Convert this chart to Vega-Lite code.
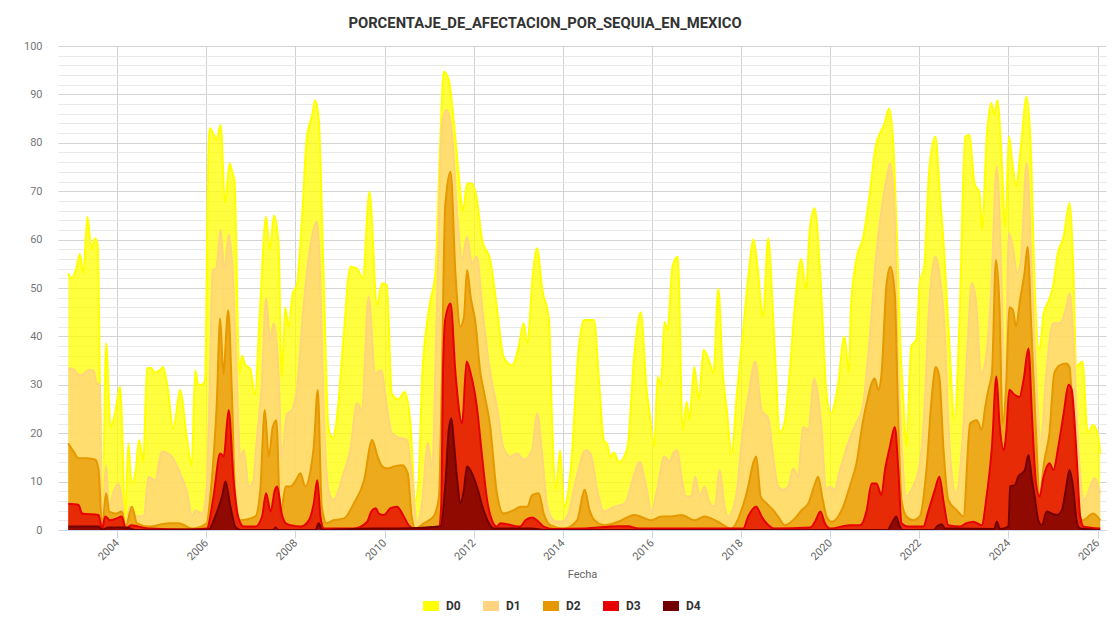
{
  "$schema": "https://vega.github.io/schema/vega-lite/v6.json",
  "width": 1048,
  "height": 484,
  "autosize": {"type": "none"},
  "padding": {"left": 58, "top": 46, "right": 6, "bottom": 89},
  "background": "white",
  "title": {"text": "PORCENTAJE_DE_AFECTACION_POR_SEQUIA_EN_MEXICO", "font": "Roboto", "fontSize": 14.8, "fontWeight": "bold", "color": "#333333", "anchor": "middle", "frame": "group", "dx": -37, "dy": 23, "offset": 17, "baseline": "bottom"},
  "datasets": {
    "D0": [
      {"Fecha":2002.90,"Porcentaje":53},{"Fecha":2002.97,"Porcentaje":52},{"Fecha":2003.08,"Porcentaje":54},{"Fecha":2003.16,"Porcentaje":57},{"Fecha":2003.24,"Porcentaje":53},{"Fecha":2003.33,"Porcentaje":64.7},{"Fecha":2003.42,"Porcentaje":58},{"Fecha":2003.50,"Porcentaje":60.3},{"Fecha":2003.56,"Porcentaje":59},{"Fecha":2003.61,"Porcentaje":31},{"Fecha":2003.66,"Porcentaje":1},{"Fecha":2003.75,"Porcentaje":38.6},{"Fecha":2003.85,"Porcentaje":21.3},{"Fecha":2003.95,"Porcentaje":24},{"Fecha":2004.06,"Porcentaje":29.6},{"Fecha":2004.13,"Porcentaje":15},{"Fecha":2004.17,"Porcentaje":1},{"Fecha":2004.25,"Porcentaje":17.9},{"Fecha":2004.32,"Porcentaje":9.6},{"Fecha":2004.41,"Porcentaje":12},{"Fecha":2004.49,"Porcentaje":18.6},{"Fecha":2004.58,"Porcentaje":14},{"Fecha":2004.67,"Porcentaje":33.4},{"Fecha":2004.75,"Porcentaje":33.5},{"Fecha":2004.85,"Porcentaje":32.5},{"Fecha":2004.95,"Porcentaje":33},{"Fecha":2005.03,"Porcentaje":33.7},{"Fecha":2005.12,"Porcentaje":30},{"Fecha":2005.26,"Porcentaje":21},{"Fecha":2005.41,"Porcentaje":28.9},{"Fecha":2005.55,"Porcentaje":20},{"Fecha":2005.67,"Porcentaje":13.4},{"Fecha":2005.75,"Porcentaje":33},{"Fecha":2005.82,"Porcentaje":30},{"Fecha":2005.90,"Porcentaje":30},{"Fecha":2005.97,"Porcentaje":31},{"Fecha":2006.05,"Porcentaje":80},{"Fecha":2006.08,"Porcentaje":83},{"Fecha":2006.15,"Porcentaje":82},{"Fecha":2006.23,"Porcentaje":80.6},{"Fecha":2006.32,"Porcentaje":83.7},{"Fecha":2006.42,"Porcentaje":67.5},{"Fecha":2006.52,"Porcentaje":75.8},{"Fecha":2006.58,"Porcentaje":74},{"Fecha":2006.63,"Porcentaje":72.3},{"Fecha":2006.74,"Porcentaje":32.4},{"Fecha":2006.80,"Porcentaje":36},{"Fecha":2006.88,"Porcentaje":34},{"Fecha":2006.98,"Porcentaje":33.4},{"Fecha":2007.09,"Porcentaje":27.9},{"Fecha":2007.20,"Porcentaje":45},{"Fecha":2007.34,"Porcentaje":64.7},{"Fecha":2007.42,"Porcentaje":57.9},{"Fecha":2007.52,"Porcentaje":65},{"Fecha":2007.62,"Porcentaje":59},{"Fecha":2007.69,"Porcentaje":31.7},{"Fecha":2007.77,"Porcentaje":46},{"Fecha":2007.84,"Porcentaje":42},{"Fecha":2007.94,"Porcentaje":48.9},{"Fecha":2008.03,"Porcentaje":50.6},{"Fecha":2008.15,"Porcentaje":65},{"Fecha":2008.25,"Porcentaje":80.6},{"Fecha":2008.38,"Porcentaje":86},{"Fecha":2008.44,"Porcentaje":88.8},{"Fecha":2008.52,"Porcentaje":85},{"Fecha":2008.63,"Porcentaje":53},{"Fecha":2008.74,"Porcentaje":21.3},{"Fecha":2008.84,"Porcentaje":19},{"Fecha":2008.95,"Porcentaje":25},{"Fecha":2009.08,"Porcentaje":40},{"Fecha":2009.23,"Porcentaje":54.4},{"Fecha":2009.38,"Porcentaje":54},{"Fecha":2009.51,"Porcentaje":52},{"Fecha":2009.66,"Porcentaje":69.9},{"Fecha":2009.83,"Porcentaje":46.5},{"Fecha":2009.94,"Porcentaje":51},{"Fecha":2010.05,"Porcentaje":50.6},{"Fecha":2010.16,"Porcentaje":28.2},{"Fecha":2010.31,"Porcentaje":27},{"Fecha":2010.45,"Porcentaje":28.5},{"Fecha":2010.58,"Porcentaje":22},{"Fecha":2010.69,"Porcentaje":6.2},{"Fecha":2010.76,"Porcentaje":10},{"Fecha":2010.84,"Porcentaje":31},{"Fecha":2010.95,"Porcentaje":42.7},{"Fecha":2011.03,"Porcentaje":47.5},{"Fecha":2011.14,"Porcentaje":53},{"Fecha":2011.25,"Porcentaje":80.6},{"Fecha":2011.33,"Porcentaje":94.7},{"Fecha":2011.44,"Porcentaje":93},{"Fecha":2011.55,"Porcentaje":84.7},{"Fecha":2011.66,"Porcentaje":73.7},{"Fecha":2011.76,"Porcentaje":66},{"Fecha":2011.85,"Porcentaje":71.6},{"Fecha":2011.96,"Porcentaje":71.6},{"Fecha":2012.06,"Porcentaje":68.9},{"Fecha":2012.19,"Porcentaje":59.9},{"Fecha":2012.37,"Porcentaje":55.8},{"Fecha":2012.52,"Porcentaje":46},{"Fecha":2012.67,"Porcentaje":35.8},{"Fecha":2012.86,"Porcentaje":34},{"Fecha":2013.01,"Porcentaje":37.9},{"Fecha":2013.12,"Porcentaje":42.7},{"Fecha":2013.20,"Porcentaje":38.6},{"Fecha":2013.33,"Porcentaje":53},{"Fecha":2013.42,"Porcentaje":58.2},{"Fecha":2013.54,"Porcentaje":49.6},{"Fecha":2013.69,"Porcentaje":43.4},{"Fecha":2013.76,"Porcentaje":22},{"Fecha":2013.84,"Porcentaje":8.3},{"Fecha":2013.94,"Porcentaje":16.5},{"Fecha":2014.03,"Porcentaje":4.8},{"Fecha":2014.18,"Porcentaje":13},{"Fecha":2014.36,"Porcentaje":37.9},{"Fecha":2014.47,"Porcentaje":43.4},{"Fecha":2014.70,"Porcentaje":43.4},{"Fecha":2014.81,"Porcentaje":31},{"Fecha":2014.92,"Porcentaje":18.6},{"Fecha":2015.00,"Porcentaje":17.6},{"Fecha":2015.07,"Porcentaje":15},{"Fecha":2015.15,"Porcentaje":16},{"Fecha":2015.26,"Porcentaje":14},{"Fecha":2015.45,"Porcentaje":17},{"Fecha":2015.60,"Porcentaje":35.8},{"Fecha":2015.75,"Porcentaje":45},{"Fecha":2015.88,"Porcentaje":29},{"Fecha":2015.95,"Porcentaje":24},{"Fecha":2016.05,"Porcentaje":17.2},{"Fecha":2016.13,"Porcentaje":31.7},{"Fecha":2016.20,"Porcentaje":29.6},{"Fecha":2016.28,"Porcentaje":43},{"Fecha":2016.35,"Porcentaje":41.3},{"Fecha":2016.46,"Porcentaje":54.4},{"Fecha":2016.58,"Porcentaje":56.5},{"Fecha":2016.69,"Porcentaje":20.7},{"Fecha":2016.78,"Porcentaje":26.5},{"Fecha":2016.84,"Porcentaje":22.7},{"Fecha":2016.95,"Porcentaje":33.7},{"Fecha":2017.05,"Porcentaje":26.9},{"Fecha":2017.16,"Porcentaje":37.2},{"Fecha":2017.29,"Porcentaje":34.8},{"Fecha":2017.38,"Porcentaje":32.4},{"Fecha":2017.49,"Porcentaje":49.9},{"Fecha":2017.59,"Porcentaje":32.4},{"Fecha":2017.68,"Porcentaje":24.8},{"Fecha":2017.79,"Porcentaje":15.8},{"Fecha":2017.90,"Porcentaje":27.5},{"Fecha":2018.04,"Porcentaje":40.6},{"Fecha":2018.17,"Porcentaje":53},{"Fecha":2018.28,"Porcentaje":60},{"Fecha":2018.37,"Porcentaje":54.4},{"Fecha":2018.49,"Porcentaje":44},{"Fecha":2018.61,"Porcentaje":60.3},{"Fecha":2018.71,"Porcentaje":46},{"Fecha":2018.79,"Porcentaje":31},{"Fecha":2018.86,"Porcentaje":20},{"Fecha":2018.97,"Porcentaje":22},{"Fecha":2019.09,"Porcentaje":32.4},{"Fecha":2019.20,"Porcentaje":45.5},{"Fecha":2019.35,"Porcentaje":56},{"Fecha":2019.46,"Porcentaje":49.6},{"Fecha":2019.54,"Porcentaje":62},{"Fecha":2019.65,"Porcentaje":66.5},{"Fecha":2019.80,"Porcentaje":48.9},{"Fecha":2019.91,"Porcentaje":29},{"Fecha":2020.02,"Porcentaje":24.1},{"Fecha":2020.17,"Porcentaje":29.6},{"Fecha":2020.32,"Porcentaje":40},{"Fecha":2020.42,"Porcentaje":32.4},{"Fecha":2020.47,"Porcentaje":46.8},{"Fecha":2020.62,"Porcentaje":57.2},{"Fecha":2020.73,"Porcentaje":60},{"Fecha":2020.88,"Porcentaje":68.9},{"Fecha":2021.02,"Porcentaje":79.2},{"Fecha":2021.12,"Porcentaje":82},{"Fecha":2021.22,"Porcentaje":84},{"Fecha":2021.32,"Porcentaje":87.1},{"Fecha":2021.41,"Porcentaje":80.6},{"Fecha":2021.50,"Porcentaje":60},{"Fecha":2021.57,"Porcentaje":39.3},{"Fecha":2021.65,"Porcentaje":25.5},{"Fecha":2021.71,"Porcentaje":17.2},{"Fecha":2021.82,"Porcentaje":37.9},{"Fecha":2021.93,"Porcentaje":39.3},{"Fecha":2022.01,"Porcentaje":51},{"Fecha":2022.11,"Porcentaje":54.4},{"Fecha":2022.22,"Porcentaje":74},{"Fecha":2022.36,"Porcentaje":81.3},{"Fecha":2022.46,"Porcentaje":69.6},{"Fecha":2022.56,"Porcentaje":57.2},{"Fecha":2022.67,"Porcentaje":39.3},{"Fecha":2022.79,"Porcentaje":22.7},{"Fecha":2022.90,"Porcentaje":42.7},{"Fecha":2023.03,"Porcentaje":81.3},{"Fecha":2023.12,"Porcentaje":81.6},{"Fecha":2023.24,"Porcentaje":71.6},{"Fecha":2023.35,"Porcentaje":69.6},{"Fecha":2023.41,"Porcentaje":62},{"Fecha":2023.51,"Porcentaje":80.6},{"Fecha":2023.61,"Porcentaje":88.2},{"Fecha":2023.69,"Porcentaje":85.7},{"Fecha":2023.75,"Porcentaje":88.8},{"Fecha":2023.84,"Porcentaje":78.5},{"Fecha":2023.93,"Porcentaje":62.7},{"Fecha":2024.01,"Porcentaje":81.3},{"Fecha":2024.10,"Porcentaje":75},{"Fecha":2024.17,"Porcentaje":71},{"Fecha":2024.28,"Porcentaje":79.2},{"Fecha":2024.41,"Porcentaje":89.5},{"Fecha":2024.51,"Porcentaje":77.1},{"Fecha":2024.58,"Porcentaje":53},{"Fecha":2024.70,"Porcentaje":37.2},{"Fecha":2024.79,"Porcentaje":44.8},{"Fecha":2024.91,"Porcentaje":47.5},{"Fecha":2025.00,"Porcentaje":50.3},{"Fecha":2025.11,"Porcentaje":57.2},{"Fecha":2025.24,"Porcentaje":60.6},{"Fecha":2025.37,"Porcentaje":67.5},{"Fecha":2025.46,"Porcentaje":53},{"Fecha":2025.52,"Porcentaje":33.7},{"Fecha":2025.66,"Porcentaje":34.8},{"Fecha":2025.78,"Porcentaje":20},{"Fecha":2025.90,"Porcentaje":21.7},{"Fecha":2026.01,"Porcentaje":19.6},{"Fecha":2026.06,"Porcentaje":15.8}
    ],
    "D1": [
      {"Fecha":2002.90,"Porcentaje":33.4},{"Fecha":2003.05,"Porcentaje":33},{"Fecha":2003.13,"Porcentaje":32},{"Fecha":2003.20,"Porcentaje":32},{"Fecha":2003.35,"Porcentaje":33},{"Fecha":2003.46,"Porcentaje":33},{"Fecha":2003.54,"Porcentaje":30.3},{"Fecha":2003.61,"Porcentaje":30},{"Fecha":2003.66,"Porcentaje":0.7},{"Fecha":2003.75,"Porcentaje":13.4},{"Fecha":2003.82,"Porcentaje":4.8},{"Fecha":2003.92,"Porcentaje":8},{"Fecha":2004.03,"Porcentaje":9.5},{"Fecha":2004.12,"Porcentaje":5},{"Fecha":2004.18,"Porcentaje":0.7},{"Fecha":2004.29,"Porcentaje":4.8},{"Fecha":2004.44,"Porcentaje":2.8},{"Fecha":2004.60,"Porcentaje":3},{"Fecha":2004.70,"Porcentaje":11},{"Fecha":2004.85,"Porcentaje":10.3},{"Fecha":2005.00,"Porcentaje":16.2},{"Fecha":2005.19,"Porcentaje":15.5},{"Fecha":2005.38,"Porcentaje":12.4},{"Fecha":2005.57,"Porcentaje":7.6},{"Fecha":2005.68,"Porcentaje":2.8},{"Fecha":2005.75,"Porcentaje":4.1},{"Fecha":2005.90,"Porcentaje":3.4},{"Fecha":2006.01,"Porcentaje":9},{"Fecha":2006.08,"Porcentaje":32},{"Fecha":2006.14,"Porcentaje":53.7},{"Fecha":2006.22,"Porcentaje":54},{"Fecha":2006.32,"Porcentaje":62},{"Fecha":2006.40,"Porcentaje":53.7},{"Fecha":2006.51,"Porcentaje":61},{"Fecha":2006.59,"Porcentaje":53},{"Fecha":2006.68,"Porcentaje":32.4},{"Fecha":2006.76,"Porcentaje":14.8},{"Fecha":2006.84,"Porcentaje":16.5},{"Fecha":2006.95,"Porcentaje":9},{"Fecha":2007.05,"Porcentaje":10},{"Fecha":2007.13,"Porcentaje":18.6},{"Fecha":2007.24,"Porcentaje":29.6},{"Fecha":2007.34,"Porcentaje":47.9},{"Fecha":2007.43,"Porcentaje":39.3},{"Fecha":2007.51,"Porcentaje":42.7},{"Fecha":2007.62,"Porcentaje":32.4},{"Fecha":2007.69,"Porcentaje":15},{"Fecha":2007.81,"Porcentaje":24},{"Fecha":2007.92,"Porcentaje":24.8},{"Fecha":2008.03,"Porcentaje":29},{"Fecha":2008.18,"Porcentaje":46},{"Fecha":2008.33,"Porcentaje":58.5},{"Fecha":2008.48,"Porcentaje":63.7},{"Fecha":2008.55,"Porcentaje":53},{"Fecha":2008.63,"Porcentaje":25.5},{"Fecha":2008.74,"Porcentaje":8.3},{"Fecha":2008.85,"Porcentaje":6.2},{"Fecha":2009.08,"Porcentaje":11.7},{"Fecha":2009.23,"Porcentaje":16.5},{"Fecha":2009.38,"Porcentaje":26.2},{"Fecha":2009.49,"Porcentaje":24.8},{"Fecha":2009.64,"Porcentaje":48.2},{"Fecha":2009.79,"Porcentaje":32.4},{"Fecha":2009.92,"Porcentaje":33},{"Fecha":2010.05,"Porcentaje":25.5},{"Fecha":2010.16,"Porcentaje":20},{"Fecha":2010.35,"Porcentaje":19},{"Fecha":2010.50,"Porcentaje":18.6},{"Fecha":2010.61,"Porcentaje":11.7},{"Fecha":2010.73,"Porcentaje":1.4},{"Fecha":2010.84,"Porcentaje":5.5},{"Fecha":2010.97,"Porcentaje":17.9},{"Fecha":2011.06,"Porcentaje":13},{"Fecha":2011.18,"Porcentaje":47.5},{"Fecha":2011.29,"Porcentaje":84},{"Fecha":2011.39,"Porcentaje":86.8},{"Fecha":2011.51,"Porcentaje":82},{"Fecha":2011.63,"Porcentaje":65.4},{"Fecha":2011.74,"Porcentaje":55.8},{"Fecha":2011.85,"Porcentaje":60.6},{"Fecha":2011.96,"Porcentaje":55},{"Fecha":2012.07,"Porcentaje":56.5},{"Fecha":2012.19,"Porcentaje":46},{"Fecha":2012.37,"Porcentaje":32.4},{"Fecha":2012.52,"Porcentaje":25.5},{"Fecha":2012.67,"Porcentaje":16.9},{"Fecha":2012.82,"Porcentaje":15.2},{"Fecha":2012.97,"Porcentaje":15.8},{"Fecha":2013.12,"Porcentaje":14.5},{"Fecha":2013.31,"Porcentaje":16.5},{"Fecha":2013.42,"Porcentaje":24.1},{"Fecha":2013.54,"Porcentaje":15.2},{"Fecha":2013.65,"Porcentaje":4.8},{"Fecha":2013.80,"Porcentaje":2},{"Fecha":2013.95,"Porcentaje":1.7},{"Fecha":2014.10,"Porcentaje":2.8},{"Fecha":2014.33,"Porcentaje":11.7},{"Fecha":2014.51,"Porcentaje":16.5},{"Fecha":2014.62,"Porcentaje":15.8},{"Fecha":2014.77,"Porcentaje":8.3},{"Fecha":2014.92,"Porcentaje":3.8},{"Fecha":2015.16,"Porcentaje":4.8},{"Fecha":2015.39,"Porcentaje":5.5},{"Fecha":2015.61,"Porcentaje":11.7},{"Fecha":2015.72,"Porcentaje":14.1},{"Fecha":2015.87,"Porcentaje":9},{"Fecha":2015.99,"Porcentaje":3.8},{"Fecha":2016.10,"Porcentaje":7.6},{"Fecha":2016.28,"Porcentaje":15.2},{"Fecha":2016.40,"Porcentaje":14},{"Fecha":2016.47,"Porcentaje":15.8},{"Fecha":2016.57,"Porcentaje":16.5},{"Fecha":2016.66,"Porcentaje":11},{"Fecha":2016.77,"Porcentaje":6.9},{"Fecha":2016.88,"Porcentaje":6.9},{"Fecha":2016.97,"Porcentaje":11},{"Fecha":2017.07,"Porcentaje":6.9},{"Fecha":2017.18,"Porcentaje":9},{"Fecha":2017.30,"Porcentaje":5.5},{"Fecha":2017.41,"Porcentaje":4.8},{"Fecha":2017.52,"Porcentaje":12.4},{"Fecha":2017.62,"Porcentaje":5.5},{"Fecha":2017.71,"Porcentaje":2.8},{"Fecha":2017.90,"Porcentaje":7.6},{"Fecha":2018.01,"Porcentaje":17.9},{"Fecha":2018.16,"Porcentaje":27.5},{"Fecha":2018.32,"Porcentaje":34.8},{"Fecha":2018.46,"Porcentaje":24.8},{"Fecha":2018.61,"Porcentaje":23},{"Fecha":2018.72,"Porcentaje":15.2},{"Fecha":2018.83,"Porcentaje":9},{"Fecha":2018.94,"Porcentaje":8.3},{"Fecha":2019.06,"Porcentaje":9},{"Fecha":2019.17,"Porcentaje":12.7},{"Fecha":2019.28,"Porcentaje":11},{"Fecha":2019.39,"Porcentaje":21.3},{"Fecha":2019.51,"Porcentaje":20.7},{"Fecha":2019.64,"Porcentaje":31.3},{"Fecha":2019.73,"Porcentaje":27.5},{"Fecha":2019.82,"Porcentaje":19.3},{"Fecha":2019.90,"Porcentaje":8.3},{"Fecha":2019.99,"Porcentaje":9},{"Fecha":2020.10,"Porcentaje":8.3},{"Fecha":2020.22,"Porcentaje":12.4},{"Fecha":2020.29,"Porcentaje":14.5},{"Fecha":2020.40,"Porcentaje":17.9},{"Fecha":2020.58,"Porcentaje":22},{"Fecha":2020.73,"Porcentaje":25.5},{"Fecha":2020.88,"Porcentaje":39},{"Fecha":2021.03,"Porcentaje":56.5},{"Fecha":2021.18,"Porcentaje":68},{"Fecha":2021.29,"Porcentaje":73.7},{"Fecha":2021.34,"Porcentaje":75.8},{"Fecha":2021.44,"Porcentaje":66.8},{"Fecha":2021.51,"Porcentaje":39.3},{"Fecha":2021.62,"Porcentaje":15},{"Fecha":2021.71,"Porcentaje":6.9},{"Fecha":2021.86,"Porcentaje":9},{"Fecha":2022.00,"Porcentaje":13},{"Fecha":2022.11,"Porcentaje":24},{"Fecha":2022.22,"Porcentaje":46},{"Fecha":2022.36,"Porcentaje":56.5},{"Fecha":2022.45,"Porcentaje":53},{"Fecha":2022.56,"Porcentaje":42.7},{"Fecha":2022.67,"Porcentaje":18.6},{"Fecha":2022.82,"Porcentaje":7.6},{"Fecha":2022.97,"Porcentaje":18.6},{"Fecha":2023.09,"Porcentaje":39.3},{"Fecha":2023.18,"Porcentaje":51},{"Fecha":2023.27,"Porcentaje":47.5},{"Fecha":2023.39,"Porcentaje":32.4},{"Fecha":2023.50,"Porcentaje":35.8},{"Fecha":2023.61,"Porcentaje":48.9},{"Fecha":2023.74,"Porcentaje":75},{"Fecha":2023.84,"Porcentaje":53},{"Fecha":2023.93,"Porcentaje":29},{"Fecha":2024.01,"Porcentaje":61.3},{"Fecha":2024.11,"Porcentaje":57.9},{"Fecha":2024.19,"Porcentaje":53},{"Fecha":2024.28,"Porcentaje":55.8},{"Fecha":2024.41,"Porcentaje":75.8},{"Fecha":2024.53,"Porcentaje":51.7},{"Fecha":2024.62,"Porcentaje":32.4},{"Fecha":2024.73,"Porcentaje":18.6},{"Fecha":2024.85,"Porcentaje":32.4},{"Fecha":2025.00,"Porcentaje":42.7},{"Fecha":2025.15,"Porcentaje":42.7},{"Fecha":2025.30,"Porcentaje":46},{"Fecha":2025.37,"Porcentaje":48.9},{"Fecha":2025.46,"Porcentaje":39.3},{"Fecha":2025.56,"Porcentaje":18.6},{"Fecha":2025.71,"Porcentaje":6.2},{"Fecha":2025.86,"Porcentaje":9.6},{"Fecha":2025.93,"Porcentaje":10.7},{"Fecha":2026.06,"Porcentaje":7.6}
    ],
    "D2": [
      {"Fecha":2002.90,"Porcentaje":17.9},{"Fecha":2003.02,"Porcentaje":16.2},{"Fecha":2003.13,"Porcentaje":14.8},{"Fecha":2003.32,"Porcentaje":14.8},{"Fecha":2003.51,"Porcentaje":14.5},{"Fecha":2003.58,"Porcentaje":12.4},{"Fecha":2003.66,"Porcentaje":0.7},{"Fecha":2003.75,"Porcentaje":7.6},{"Fecha":2003.82,"Porcentaje":3.8},{"Fecha":2003.96,"Porcentaje":3.4},{"Fecha":2004.10,"Porcentaje":3.8},{"Fecha":2004.19,"Porcentaje":0.7},{"Fecha":2004.33,"Porcentaje":4.8},{"Fecha":2004.44,"Porcentaje":1.4},{"Fecha":2004.70,"Porcentaje":0.7},{"Fecha":2005.15,"Porcentaje":1.4},{"Fecha":2005.38,"Porcentaje":1.4},{"Fecha":2005.68,"Porcentaje":0.3},{"Fecha":2006.01,"Porcentaje":1.4},{"Fecha":2006.08,"Porcentaje":6.2},{"Fecha":2006.16,"Porcentaje":15},{"Fecha":2006.23,"Porcentaje":25.5},{"Fecha":2006.31,"Porcentaje":43.7},{"Fecha":2006.38,"Porcentaje":32.4},{"Fecha":2006.49,"Porcentaje":45.4},{"Fecha":2006.57,"Porcentaje":29},{"Fecha":2006.64,"Porcentaje":8.3},{"Fecha":2006.76,"Porcentaje":2},{"Fecha":2007.10,"Porcentaje":2.8},{"Fecha":2007.21,"Porcentaje":8.3},{"Fecha":2007.31,"Porcentaje":24.8},{"Fecha":2007.40,"Porcentaje":15.2},{"Fecha":2007.49,"Porcentaje":21.3},{"Fecha":2007.57,"Porcentaje":22.7},{"Fecha":2007.66,"Porcentaje":2.8},{"Fecha":2007.78,"Porcentaje":9},{"Fecha":2007.89,"Porcentaje":9},{"Fecha":2008.01,"Porcentaje":10.3},{"Fecha":2008.11,"Porcentaje":11.7},{"Fecha":2008.22,"Porcentaje":9},{"Fecha":2008.34,"Porcentaje":12.4},{"Fecha":2008.41,"Porcentaje":17.2},{"Fecha":2008.50,"Porcentaje":28.9},{"Fecha":2008.59,"Porcentaje":4.8},{"Fecha":2008.70,"Porcentaje":1.4},{"Fecha":2008.85,"Porcentaje":2},{"Fecha":2009.09,"Porcentaje":2.4},{"Fecha":2009.31,"Porcentaje":5.5},{"Fecha":2009.54,"Porcentaje":10.3},{"Fecha":2009.72,"Porcentaje":18.6},{"Fecha":2009.84,"Porcentaje":15.2},{"Fecha":2009.95,"Porcentaje":13.1},{"Fecha":2010.06,"Porcentaje":12.7},{"Fecha":2010.21,"Porcentaje":13.1},{"Fecha":2010.40,"Porcentaje":13.4},{"Fecha":2010.52,"Porcentaje":11.7},{"Fecha":2010.60,"Porcentaje":3.4},{"Fecha":2010.69,"Porcentaje":0.3},{"Fecha":2010.88,"Porcentaje":1.4},{"Fecha":2011.10,"Porcentaje":2.8},{"Fecha":2011.22,"Porcentaje":6.9},{"Fecha":2011.28,"Porcentaje":29},{"Fecha":2011.36,"Porcentaje":66.8},{"Fecha":2011.48,"Porcentaje":74},{"Fecha":2011.59,"Porcentaje":53},{"Fecha":2011.70,"Porcentaje":42},{"Fecha":2011.78,"Porcentaje":44},{"Fecha":2011.85,"Porcentaje":53.7},{"Fecha":2011.93,"Porcentaje":48.2},{"Fecha":2012.04,"Porcentaje":42.7},{"Fecha":2012.15,"Porcentaje":32.4},{"Fecha":2012.22,"Porcentaje":29},{"Fecha":2012.37,"Porcentaje":21.3},{"Fecha":2012.52,"Porcentaje":7.6},{"Fecha":2012.67,"Porcentaje":3.4},{"Fecha":2012.90,"Porcentaje":4.1},{"Fecha":2013.05,"Porcentaje":4.8},{"Fecha":2013.20,"Porcentaje":4.8},{"Fecha":2013.31,"Porcentaje":7.2},{"Fecha":2013.46,"Porcentaje":7.6},{"Fecha":2013.57,"Porcentaje":3.4},{"Fecha":2013.72,"Porcentaje":1},{"Fecha":2014.02,"Porcentaje":0.3},{"Fecha":2014.32,"Porcentaje":2},{"Fecha":2014.49,"Porcentaje":8.3},{"Fecha":2014.60,"Porcentaje":4.1},{"Fecha":2014.71,"Porcentaje":2},{"Fecha":2014.94,"Porcentaje":1},{"Fecha":2015.24,"Porcentaje":1.7},{"Fecha":2015.61,"Porcentaje":3.1},{"Fecha":2015.99,"Porcentaje":2},{"Fecha":2016.21,"Porcentaje":2.8},{"Fecha":2016.43,"Porcentaje":2.8},{"Fecha":2016.66,"Porcentaje":3.1},{"Fecha":2016.96,"Porcentaje":2},{"Fecha":2017.18,"Porcentaje":2.8},{"Fecha":2017.48,"Porcentaje":1.7},{"Fecha":2017.78,"Porcentaje":0.3},{"Fecha":2018.01,"Porcentaje":4.1},{"Fecha":2018.16,"Porcentaje":9},{"Fecha":2018.27,"Porcentaje":13.8},{"Fecha":2018.34,"Porcentaje":15.2},{"Fecha":2018.44,"Porcentaje":6.9},{"Fecha":2018.57,"Porcentaje":5.5},{"Fecha":2018.72,"Porcentaje":4.1},{"Fecha":2018.83,"Porcentaje":2.8},{"Fecha":2018.98,"Porcentaje":1},{"Fecha":2019.21,"Porcentaje":2.4},{"Fecha":2019.36,"Porcentaje":4.1},{"Fecha":2019.51,"Porcentaje":5.5},{"Fecha":2019.66,"Porcentaje":9.6},{"Fecha":2019.73,"Porcentaje":11},{"Fecha":2019.82,"Porcentaje":6.9},{"Fecha":2019.92,"Porcentaje":2.8},{"Fecha":2020.03,"Porcentaje":1.7},{"Fecha":2020.18,"Porcentaje":2.8},{"Fecha":2020.29,"Porcentaje":4.8},{"Fecha":2020.44,"Porcentaje":9},{"Fecha":2020.59,"Porcentaje":13.8},{"Fecha":2020.74,"Porcentaje":22.7},{"Fecha":2020.85,"Porcentaje":27.5},{"Fecha":2020.93,"Porcentaje":30.3},{"Fecha":2021.00,"Porcentaje":31.3},{"Fecha":2021.08,"Porcentaje":29},{"Fecha":2021.15,"Porcentaje":32},{"Fecha":2021.26,"Porcentaje":50.3},{"Fecha":2021.35,"Porcentaje":54.4},{"Fecha":2021.45,"Porcentaje":48.9},{"Fecha":2021.52,"Porcentaje":25.5},{"Fecha":2021.60,"Porcentaje":6.2},{"Fecha":2021.71,"Porcentaje":2.8},{"Fecha":2021.87,"Porcentaje":2},{"Fecha":2022.01,"Porcentaje":2.8},{"Fecha":2022.16,"Porcentaje":12.4},{"Fecha":2022.28,"Porcentaje":27.5},{"Fecha":2022.37,"Porcentaje":33.7},{"Fecha":2022.45,"Porcentaje":31.7},{"Fecha":2022.54,"Porcentaje":17.2},{"Fecha":2022.65,"Porcentaje":6.2},{"Fecha":2022.84,"Porcentaje":4.1},{"Fecha":2022.99,"Porcentaje":2.8},{"Fecha":2023.14,"Porcentaje":22},{"Fecha":2023.29,"Porcentaje":22.7},{"Fecha":2023.40,"Porcentaje":20.7},{"Fecha":2023.48,"Porcentaje":25.5},{"Fecha":2023.55,"Porcentaje":29},{"Fecha":2023.63,"Porcentaje":32.4},{"Fecha":2023.72,"Porcentaje":55.8},{"Fecha":2023.80,"Porcentaje":46},{"Fecha":2023.87,"Porcentaje":22},{"Fecha":2023.95,"Porcentaje":30},{"Fecha":2024.02,"Porcentaje":46},{"Fecha":2024.10,"Porcentaje":45.5},{"Fecha":2024.17,"Porcentaje":42},{"Fecha":2024.26,"Porcentaje":47.5},{"Fecha":2024.36,"Porcentaje":53},{"Fecha":2024.43,"Porcentaje":58.5},{"Fecha":2024.51,"Porcentaje":42.7},{"Fecha":2024.61,"Porcentaje":22},{"Fecha":2024.70,"Porcentaje":7.6},{"Fecha":2024.81,"Porcentaje":14.5},{"Fecha":2024.92,"Porcentaje":20},{"Fecha":2025.03,"Porcentaje":32.4},{"Fecha":2025.15,"Porcentaje":34},{"Fecha":2025.30,"Porcentaje":34.4},{"Fecha":2025.37,"Porcentaje":33.7},{"Fecha":2025.45,"Porcentaje":22},{"Fecha":2025.54,"Porcentaje":6.2},{"Fecha":2025.67,"Porcentaje":2},{"Fecha":2025.90,"Porcentaje":3.4},{"Fecha":2026.06,"Porcentaje":2}
    ],
    "D3": [
      {"Fecha":2002.90,"Porcentaje":5.4},{"Fecha":2003.13,"Porcentaje":5.2},{"Fecha":2003.21,"Porcentaje":3.4},{"Fecha":2003.58,"Porcentaje":3.1},{"Fecha":2003.66,"Porcentaje":0.3},{"Fecha":2003.73,"Porcentaje":2.8},{"Fecha":2003.84,"Porcentaje":2},{"Fecha":2003.99,"Porcentaje":2.4},{"Fecha":2004.10,"Porcentaje":2.8},{"Fecha":2004.19,"Porcentaje":0.3},{"Fecha":2004.31,"Porcentaje":1},{"Fecha":2004.48,"Porcentaje":0.7},{"Fecha":2004.70,"Porcentaje":0.3},{"Fecha":2005.60,"Porcentaje":0.1},{"Fecha":2006.01,"Porcentaje":0.3},{"Fecha":2006.16,"Porcentaje":6.9},{"Fecha":2006.31,"Porcentaje":15.8},{"Fecha":2006.39,"Porcentaje":15.2},{"Fecha":2006.50,"Porcentaje":24.8},{"Fecha":2006.61,"Porcentaje":10.3},{"Fecha":2006.71,"Porcentaje":2.8},{"Fecha":2006.84,"Porcentaje":0.7},{"Fecha":2007.10,"Porcentaje":0.7},{"Fecha":2007.25,"Porcentaje":2.8},{"Fecha":2007.34,"Porcentaje":7.6},{"Fecha":2007.44,"Porcentaje":3.8},{"Fecha":2007.54,"Porcentaje":8.3},{"Fecha":2007.59,"Porcentaje":9},{"Fecha":2007.69,"Porcentaje":3.4},{"Fecha":2007.78,"Porcentaje":1.4},{"Fecha":2007.89,"Porcentaje":1},{"Fecha":2008.11,"Porcentaje":0.7},{"Fecha":2008.30,"Porcentaje":2},{"Fecha":2008.41,"Porcentaje":5.5},{"Fecha":2008.49,"Porcentaje":10.3},{"Fecha":2008.56,"Porcentaje":2.8},{"Fecha":2008.64,"Porcentaje":0.3},{"Fecha":2009.31,"Porcentaje":0.3},{"Fecha":2009.61,"Porcentaje":1.7},{"Fecha":2009.69,"Porcentaje":3.6},{"Fecha":2009.80,"Porcentaje":4.5},{"Fecha":2009.87,"Porcentaje":3.4},{"Fecha":2009.99,"Porcentaje":3.1},{"Fecha":2010.13,"Porcentaje":4.5},{"Fecha":2010.28,"Porcentaje":4.8},{"Fecha":2010.43,"Porcentaje":2.8},{"Fecha":2010.54,"Porcentaje":1},{"Fecha":2010.66,"Porcentaje":0.3},{"Fecha":2011.22,"Porcentaje":0.7},{"Fecha":2011.27,"Porcentaje":5},{"Fecha":2011.31,"Porcentaje":32},{"Fecha":2011.36,"Porcentaje":43.4},{"Fecha":2011.48,"Porcentaje":46.8},{"Fecha":2011.59,"Porcentaje":32.4},{"Fecha":2011.74,"Porcentaje":22},{"Fecha":2011.84,"Porcentaje":34.8},{"Fecha":2011.93,"Porcentaje":32.4},{"Fecha":2012.07,"Porcentaje":25.5},{"Fecha":2012.19,"Porcentaje":15},{"Fecha":2012.30,"Porcentaje":6.2},{"Fecha":2012.41,"Porcentaje":2},{"Fecha":2012.52,"Porcentaje":0.7},{"Fecha":2012.60,"Porcentaje":1.4},{"Fecha":2013.04,"Porcentaje":0.7},{"Fecha":2013.16,"Porcentaje":2},{"Fecha":2013.31,"Porcentaje":2.6},{"Fecha":2013.42,"Porcentaje":2},{"Fecha":2013.57,"Porcentaje":0.7},{"Fecha":2013.79,"Porcentaje":0.2},{"Fecha":2014.50,"Porcentaje":0.3},{"Fecha":2015.24,"Porcentaje":0.8},{"Fecha":2015.46,"Porcentaje":0.8},{"Fecha":2015.70,"Porcentaje":0.3},{"Fecha":2016.50,"Porcentaje":0.3},{"Fecha":2017.50,"Porcentaje":0.3},{"Fecha":2018.05,"Porcentaje":0.3},{"Fecha":2018.16,"Porcentaje":2.8},{"Fecha":2018.34,"Porcentaje":4.8},{"Fecha":2018.46,"Porcentaje":2.8},{"Fecha":2018.57,"Porcentaje":1.4},{"Fecha":2018.75,"Porcentaje":0.3},{"Fecha":2019.55,"Porcentaje":0.5},{"Fecha":2019.66,"Porcentaje":1.7},{"Fecha":2019.78,"Porcentaje":3.8},{"Fecha":2019.88,"Porcentaje":1.4},{"Fecha":2020.00,"Porcentaje":0.3},{"Fecha":2020.44,"Porcentaje":1},{"Fecha":2020.67,"Porcentaje":1},{"Fecha":2020.82,"Porcentaje":4.1},{"Fecha":2020.93,"Porcentaje":9.6},{"Fecha":2021.04,"Porcentaje":9.6},{"Fecha":2021.15,"Porcentaje":7.2},{"Fecha":2021.23,"Porcentaje":12.4},{"Fecha":2021.34,"Porcentaje":17.2},{"Fecha":2021.45,"Porcentaje":21.3},{"Fecha":2021.53,"Porcentaje":12.4},{"Fecha":2021.60,"Porcentaje":1.4},{"Fecha":2021.75,"Porcentaje":0.7},{"Fecha":2022.09,"Porcentaje":0.7},{"Fecha":2022.20,"Porcentaje":3.8},{"Fecha":2022.35,"Porcentaje":8.3},{"Fecha":2022.45,"Porcentaje":11},{"Fecha":2022.55,"Porcentaje":5.5},{"Fecha":2022.65,"Porcentaje":1},{"Fecha":2022.91,"Porcentaje":0.7},{"Fecha":2023.06,"Porcentaje":1.4},{"Fecha":2023.21,"Porcentaje":1.7},{"Fecha":2023.40,"Porcentaje":1},{"Fecha":2023.51,"Porcentaje":6.9},{"Fecha":2023.63,"Porcentaje":17.2},{"Fecha":2023.73,"Porcentaje":31.7},{"Fecha":2023.80,"Porcentaje":22},{"Fecha":2023.90,"Porcentaje":16.5},{"Fecha":2023.95,"Porcentaje":20},{"Fecha":2024.02,"Porcentaje":29},{"Fecha":2024.13,"Porcentaje":28},{"Fecha":2024.25,"Porcentaje":27.5},{"Fecha":2024.34,"Porcentaje":31},{"Fecha":2024.45,"Porcentaje":37.5},{"Fecha":2024.53,"Porcentaje":23.4},{"Fecha":2024.62,"Porcentaje":9.6},{"Fecha":2024.70,"Porcentaje":6.9},{"Fecha":2024.79,"Porcentaje":11},{"Fecha":2024.92,"Porcentaje":13.8},{"Fecha":2025.01,"Porcentaje":12.4},{"Fecha":2025.12,"Porcentaje":17.2},{"Fecha":2025.24,"Porcentaje":24.1},{"Fecha":2025.35,"Porcentaje":30},{"Fecha":2025.42,"Porcentaje":29},{"Fecha":2025.54,"Porcentaje":13.8},{"Fecha":2025.61,"Porcentaje":2.8},{"Fecha":2025.69,"Porcentaje":0.7},{"Fecha":2026.06,"Porcentaje":0.3}
    ],
    "D4": [
      {"Fecha":2002.90,"Porcentaje":0.7},{"Fecha":2003.58,"Porcentaje":0.7},{"Fecha":2003.66,"Porcentaje":0.1},{"Fecha":2003.80,"Porcentaje":0.5},{"Fecha":2004.20,"Porcentaje":0.5},{"Fecha":2004.40,"Porcentaje":0},{"Fecha":2006.05,"Porcentaje":0.1},{"Fecha":2006.20,"Porcentaje":2.8},{"Fecha":2006.35,"Porcentaje":6.9},{"Fecha":2006.43,"Porcentaje":10},{"Fecha":2006.54,"Porcentaje":4.8},{"Fecha":2006.65,"Porcentaje":0.7},{"Fecha":2006.76,"Porcentaje":0},{"Fecha":2007.50,"Porcentaje":0},{"Fecha":2007.55,"Porcentaje":0.5},{"Fecha":2007.62,"Porcentaje":0},{"Fecha":2008.45,"Porcentaje":0},{"Fecha":2008.52,"Porcentaje":1.4},{"Fecha":2008.60,"Porcentaje":0},{"Fecha":2009.70,"Porcentaje":0.3},{"Fecha":2010.30,"Porcentaje":0.3},{"Fecha":2011.25,"Porcentaje":0.7},{"Fecha":2011.37,"Porcentaje":10.3},{"Fecha":2011.44,"Porcentaje":20.7},{"Fecha":2011.50,"Porcentaje":23.1},{"Fecha":2011.55,"Porcentaje":18.6},{"Fecha":2011.63,"Porcentaje":10.3},{"Fecha":2011.70,"Porcentaje":5.5},{"Fecha":2011.78,"Porcentaje":8.3},{"Fecha":2011.85,"Porcentaje":13.1},{"Fecha":2011.96,"Porcentaje":11.7},{"Fecha":2012.07,"Porcentaje":9},{"Fecha":2012.22,"Porcentaje":4.1},{"Fecha":2012.34,"Porcentaje":1.4},{"Fecha":2012.45,"Porcentaje":0.3},{"Fecha":2013.30,"Porcentaje":0.3},{"Fecha":2013.60,"Porcentaje":0},{"Fecha":2021.30,"Porcentaje":0},{"Fecha":2021.34,"Porcentaje":0.7},{"Fecha":2021.42,"Porcentaje":2},{"Fecha":2021.48,"Porcentaje":2.8},{"Fecha":2021.55,"Porcentaje":1},{"Fecha":2021.62,"Porcentaje":0},{"Fecha":2022.33,"Porcentaje":0},{"Fecha":2022.39,"Porcentaje":0.7},{"Fecha":2022.50,"Porcentaje":1.2},{"Fecha":2022.58,"Porcentaje":0.3},{"Fecha":2023.68,"Porcentaje":0.2},{"Fecha":2023.74,"Porcentaje":1.7},{"Fecha":2023.81,"Porcentaje":0.2},{"Fecha":2024.00,"Porcentaje":0.7},{"Fecha":2024.04,"Porcentaje":9},{"Fecha":2024.15,"Porcentaje":9.3},{"Fecha":2024.22,"Porcentaje":11},{"Fecha":2024.30,"Porcentaje":11.7},{"Fecha":2024.37,"Porcentaje":12.4},{"Fecha":2024.45,"Porcentaje":15.5},{"Fecha":2024.52,"Porcentaje":11},{"Fecha":2024.60,"Porcentaje":6.2},{"Fecha":2024.67,"Porcentaje":2},{"Fecha":2024.75,"Porcentaje":1},{"Fecha":2024.86,"Porcentaje":3.8},{"Fecha":2024.97,"Porcentaje":3.4},{"Fecha":2025.09,"Porcentaje":3.1},{"Fecha":2025.20,"Porcentaje":4.1},{"Fecha":2025.30,"Porcentaje":9},{"Fecha":2025.37,"Porcentaje":12.4},{"Fecha":2025.45,"Porcentaje":9},{"Fecha":2025.54,"Porcentaje":1.4},{"Fecha":2025.61,"Porcentaje":0.3},{"Fecha":2026.06,"Porcentaje":0}
    ]
  },
  "encoding": {
    "x": {
      "field": "Fecha", "type": "quantitative",
      "scale": {"domain": [2002.67, 2026.19], "nice": false, "zero": false},
      "axis": {
        "values": [2004, 2006, 2008, 2010, 2012, 2014, 2016, 2018, 2020, 2022, 2024, 2026],
        "format": "d", "labelAngle": -45, "labelAlign": "right", "labelBaseline": "middle",
        "labelFont": "Roboto", "labelFontSize": 11, "labelColor": "#666666", "labelPadding": 3,
        "tickColor": "#ccd6eb", "tickSize": 8, "domainColor": "#ccd6eb",
        "grid": true, "gridColor": "#d2d2d2",
        "title": "Fecha", "titleFont": "Roboto", "titleFontSize": 11, "titleFontWeight": "normal", "titleColor": "#666666", "titlePadding": 6
      }
    },
    "y": {
      "field": "Porcentaje", "type": "quantitative", "stack": null,
      "scale": {"domain": [0, 100], "nice": false},
      "axis": {
        "values": [0,2,4,6,8,10,12,14,16,18,20,22,24,26,28,30,32,34,36,38,40,42,44,46,48,50,52,54,56,58,60,62,64,66,68,70,72,74,76,78,80,82,84,86,88,90,92,94,96,98,100],
        "labelExpr": "datum.value % 10 === 0 ? datum.label : ''",
        "ticks": false, "domain": false, "title": null,
        "labelFont": "Roboto", "labelFontSize": 11, "labelColor": "#777777", "labelPadding": 16,
        "gridColor": {"condition": {"test": "datum.value % 10 === 0", "value": "#d4d4d4"}, "value": "#e9e9e9"}
      }
    }
  },
  "layer": [
    {"data": {"name": "D0"}, "mark": {"type": "area", "interpolate": "monotone", "fillOpacity": 0.75, "clip": true, "line": {"strokeWidth": 2}}, "encoding": {"color": {"datum": "D0"}}},
    {"data": {"name": "D1"}, "mark": {"type": "area", "interpolate": "monotone", "fillOpacity": 0.75, "clip": true, "line": {"strokeWidth": 2}}, "encoding": {"color": {"datum": "D1"}}},
    {"data": {"name": "D2"}, "mark": {"type": "area", "interpolate": "monotone", "fillOpacity": 0.75, "clip": true, "line": {"strokeWidth": 2}}, "encoding": {"color": {"datum": "D2"}}},
    {"data": {"name": "D3"}, "mark": {"type": "area", "interpolate": "monotone", "fillOpacity": 0.75, "clip": true, "line": {"strokeWidth": 2}}, "encoding": {"color": {"datum": "D3"}}},
    {"data": {"name": "D4"}, "mark": {"type": "area", "interpolate": "monotone", "fillOpacity": 0.75, "clip": true, "line": {"strokeWidth": 2}}, "encoding": {"color": {"datum": "D4", "type": "nominal", "scale": {"domain": ["D0", "D1", "D2", "D3", "D4"], "range": ["#ffff00", "#ffd37f", "#e69800", "#e60000", "#730000"]}, "legend": {"orient": "none", "legendX": 365, "legendY": 552, "direction": "horizontal", "title": null, "symbolType": "M-1,-0.625L1,-0.625L1,0.625L-1,0.625Z", "symbolSize": 256, "symbolOpacity": 1, "symbolStrokeWidth": 0, "labelFont": "Roboto", "labelFontSize": 12, "labelFontWeight": "bold", "labelColor": "#333333", "labelOffset": 7, "columnPadding": 22}}}}
  ],
  "config": {
    "view": {"stroke": null},
    "font": "Roboto"
  }
}
